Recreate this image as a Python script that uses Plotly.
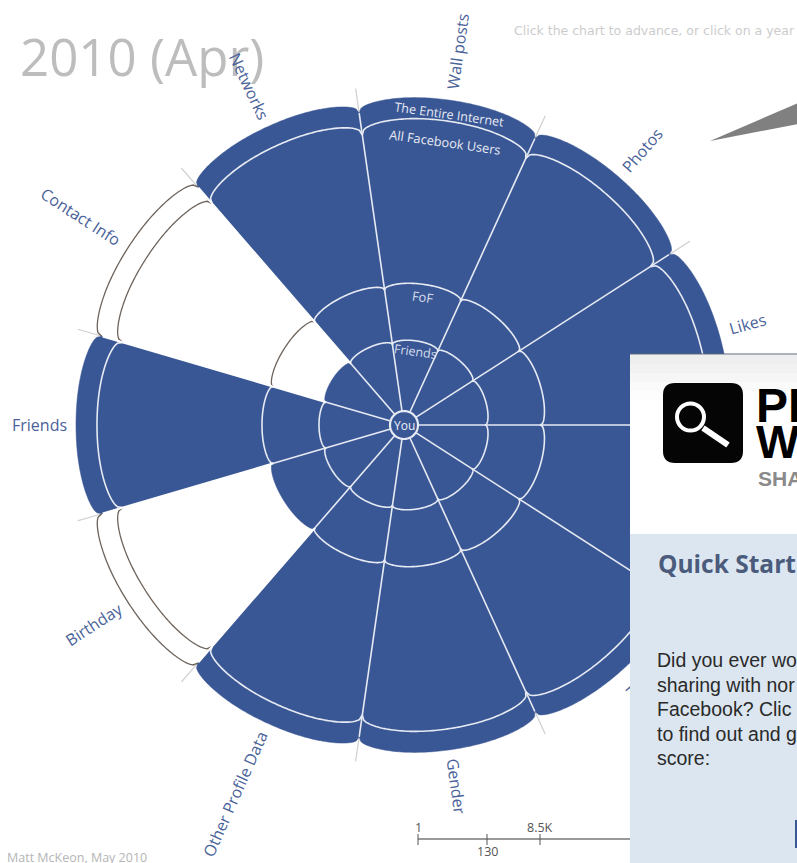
import numpy as np
import plotly.graph_objects as go

W, H = 797, 863
CX, CY, R_MAX = 404, 425, 340

# ordered counter-clockwise from the east spoke
categories = ["Likes", "Photos", "Wall posts", "Networks", "Contact Info", "Friends",
              "Birthday", "Other Profile Data", "Gender", "Picture", "Name"]
# outermost audience reached: index into audiences
reach = [4, 4, 4, 4, 1, 4, 2, 4, 4, 4, 4]
audiences = ["You", "Friends", "FoF", "All Facebook Users", "The Entire Internet"]
ring_radii = [14, 85, 142, 307, 328]
ring_drops = [0, 4, 6, 14, 13]

# label centre in pixels of the picture is derived from angle + distance
label_dist = [358, 364, 377, 373, 384, 365, 368, 406, 365, 370, None]
label_angle = [-16, -49, -82, 65, 33, 0, -33, -66, 82, 49, None]

BLUE = "#3a5795"
LABEL = "#4a6299"
BROWN = "#6e645c"
RING = "#e6eaf3"
PANEL = "#dce6f0"
step = 360 / len(categories)


def px(x):
    return x / W


def py(y):
    return 1 - y / H


def lobe(level, start):
    u = np.linspace(-1, 1, 81)
    r = ring_radii[level] - ring_drops[level] * (1 - (1 - np.abs(u) ** 2.6) ** (1 / 2.6))
    return start + step * (u + 1) / 2, r


def text(x, y, s, size, color, angle=0, font="Open Sans", anchor="center", bold=False):
    return dict(x=px(x), y=py(y), xref="paper", yref="paper", text=f"<b>{s}</b>" if bold else s,
                showarrow=False, xanchor=anchor, yanchor="middle", textangle=angle,
                font=dict(family=font, size=size, color=color))


def rect(x0, y0, x1, y1, color, line=None):
    return dict(type="rect", xref="paper", yref="paper", x0=px(x0), x1=px(x1), y0=py(y0), y1=py(y1),
                fillcolor=color, line=dict(width=0 if line is None else 1, color=line or color), layer="above")


def seg(x0, y0, x1, y1, color, width=1):
    return dict(type="line", xref="paper", yref="paper", x0=px(x0), x1=px(x1), y0=py(y0), y1=py(y1),
                line=dict(color=color, width=width), layer="above")


fig = go.Figure()


def add_line(theta, r, color, width):
    fig.add_trace(go.Scatterpolar(theta=theta, r=r, mode="lines", line=dict(color=color, width=width),
                                  hoverinfo="skip", showlegend=False))


# grey spoke extensions
for i in range(len(categories)):
    add_line([i * step, i * step], [314, 348], "#cfcfcf", 1.2)

# filled wedges
for i, name in enumerate(categories):
    th, r = lobe(reach[i], i * step)
    fig.add_trace(go.Scatterpolar(theta=np.r_[i * step, th, (i + 1) * step], r=np.r_[0, r, 0], mode="lines",
                                  fill="toself", fillcolor=BLUE, line=dict(color=BLUE, width=0.5),
                                  name=name, hoverinfo="skip", showlegend=False))

# ring boundaries: white inside the fill, brown outline past it
for i in range(len(categories)):
    for level in range(1, len(audiences)):
        th, r = lobe(level, i * step)
        if level < reach[i]:
            add_line(th, r, RING, 1.6)
        elif level > reach[i]:
            add_line(th, r, BROWN, 1.3)

# spokes, only as far as both neighbouring wedges are blue, plain white past that
for i in range(len(categories)):
    inner = min(reach[i], reach[i - 1])
    top = ring_radii[inner] - ring_drops[inner]
    if top < 314:
        add_line([i * step, i * step], [top, 314], "#ffffff", 2)
    add_line([i * step, i * step], [14, top], RING, 1.6)

# centre disc
disc = np.linspace(0, 360, 61)
fig.add_trace(go.Scatterpolar(theta=disc, r=np.full(61, ring_radii[0]), mode="lines", fill="toself",
                              fillcolor=BLUE, line=dict(color=RING, width=2.2),
                              hoverinfo="skip", showlegend=False))

annotations = [
    text(18, 56, "2010 (Apr)", 51, "#bdbdbd", anchor="left"),
    text(512, 31, "Click the chart to advance, or click on a year", 12.5, "#cccccc", font="DejaVu Sans", anchor="left"),
    text(5, 857, "Matt McKeon, May 2010", 12.5, "#b5b5b5", anchor="left"),
    text(404, 425, "You", 12, "#eef1f7"),
    text(415, 351, "Friends", 12.5, "#d5dcec", angle=8),
    text(423, 297, "FoF", 13, "#d5dcec", angle=8),
    text(445, 142, "All Facebook Users", 12.8, RING, angle=8),
    text(449, 115, "The Entire Internet", 12.6, RING, angle=8),
    text(419, 827, "1", 12.5, "#555555"),
    text(487, 851, "130", 12.5, "#555555"),
    text(540, 827, "8.5K", 12.5, "#555555"),
]
for i, name in enumerate(categories):
    if label_dist[i] is None:
        continue
    mid = np.radians((i + 0.5) * step)
    annotations.append(text(CX + label_dist[i] * np.cos(mid), CY - label_dist[i] * np.sin(mid),
                            name, 16, LABEL, angle=label_angle[i]))

# annotations sit above shapes, so the panel has to hide the rest of the Picture label itself
annotations.append(dict(x=px(630), y=py(670), xref="paper", yref="paper", xanchor="left", yanchor="top",
                        text=" ", showarrow=False, width=60, height=70, bgcolor=PANEL, borderpad=0, borderwidth=0))

shapes = []
# distance scale
shapes.append(seg(418, 839, 632, 839, "#999999", 2))
for tick in [418, 487, 540]:
    shapes.append(seg(tick, 834, tick, 845, "#555555", 1))
# grey pointer
shapes.append(dict(type="path", xref="paper", yref="paper", layer="above", line=dict(width=0), fillcolor="#808080",
                   path=f"M {px(710)} {py(141)} L {px(798)} {py(103)} L {px(798)} {py(124)} Z"))
# quick start panel
shapes.append(rect(630, 354, 798, 864, "#ffffff"))
for k, shade in enumerate(["#eeeeee", "#f2f2f2", "#f6f6f6", "#fafafa", "#fdfdfd"]):
    shapes.append(rect(630, 355 + k * 9, 798, 364 + k * 9, shade))
shapes.append(seg(630, 354, 798, 354, "#5a6478", 1))
shapes.append(rect(630, 534, 798, 864, PANEL))
shapes.append(dict(type="path", xref="paper", yref="paper", layer="above", line=dict(width=0), fillcolor="#050505",
                   path=" ".join([
                       f"M {px(675)} {py(383)} L {px(731)} {py(383)} Q {px(743)} {py(383)} {px(743)} {py(395)}",
                       f"L {px(743)} {py(451)} Q {px(743)} {py(463)} {px(731)} {py(463)}",
                       f"L {px(675)} {py(463)} Q {px(663)} {py(463)} {px(663)} {py(451)}",
                       f"L {px(663)} {py(395)} Q {px(663)} {py(383)} {px(675)} {py(383)} Z"])))
shapes.append(dict(type="circle", xref="paper", yref="paper", layer="above", x0=px(677), x1=px(704),
                   y0=py(403.5), y1=py(430.5), line=dict(color="#ffffff", width=4)))
shapes.append(seg(703, 428, 728, 445, "#ffffff", 6))
shapes.append(rect(795, 820, 798, 848, BLUE))

annotations += [
    text(754, 405, "PI", 48, "#000000", font="Liberation Sans", anchor="left", bold=True),
    text(754, 442, "W", 46, "#000000", font="Liberation Sans", anchor="left", bold=True),
    text(756, 478, "SHA", 21, "#8a8a8a", font="Liberation Sans", anchor="left", bold=True),
    text(656, 563, "Quick Start", 24.5, "#4a5b7c", anchor="left", bold=True),
]
for k, line in enumerate(["Did you ever wo", "sharing with nor", "Facebook? Clic", "to find out and g", "score:"]):
    annotations.append(text(655, 660 + k * 24.5, line, 19.5, "#2a2a2a", font="Liberation Sans", anchor="left"))

fig.update_layout(
    width=W,
    height=H,
    autosize=False,
    margin=dict(l=0, r=0, t=0, b=0),
    paper_bgcolor="#ffffff",
    showlegend=False,
    polar=dict(
        domain=dict(x=[(CX - R_MAX) / W, (CX + R_MAX) / W],
                    y=[(H - CY - R_MAX) / H, (H - CY + R_MAX) / H]),
        bgcolor="rgba(0,0,0,0)",
        radialaxis=dict(visible=False, range=[0, R_MAX]),
        angularaxis=dict(visible=False, direction="counterclockwise", rotation=0, thetaunit="degrees"),
    ),
    annotations=annotations,
    shapes=shapes,
)

fig.write_html("out.html", config=dict(displayModeBar=False),
               post_script="document.body.style.margin='0';document.body.style.overflow='hidden';")
